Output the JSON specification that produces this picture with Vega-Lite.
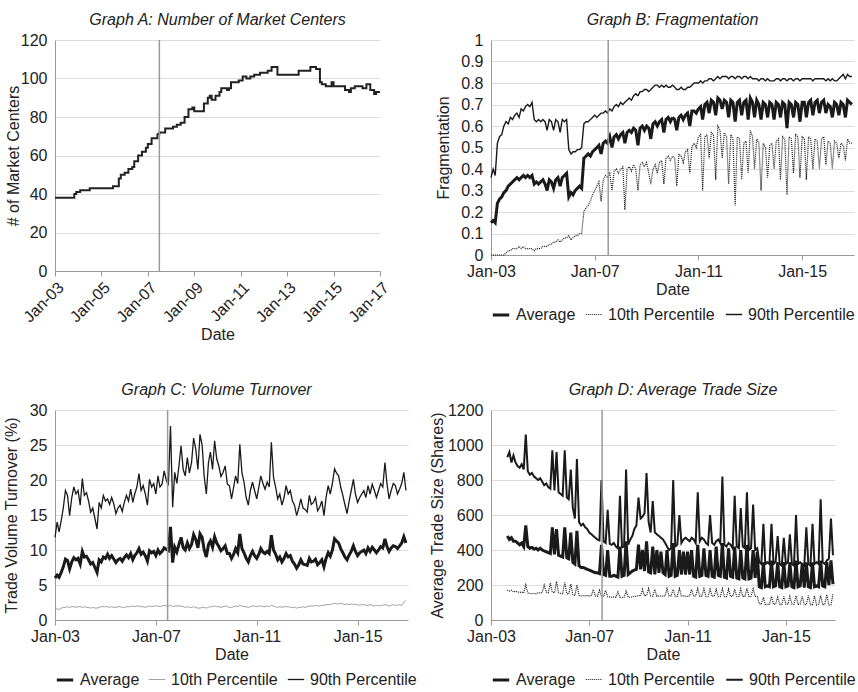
{
"$schema": "https://vega.github.io/schema/vega-lite/v6.json",
"background": "white",
"padding": {"left": 2, "top": 12, "right": 0, "bottom": 0},
"config": {
  "font": "Liberation Sans",
  "view": {"stroke": null},
  "title": {"fontSize": 16, "fontStyle": "italic", "fontWeight": "normal", "color": "#222", "offset": 4, "anchor": "middle", "font": "Liberation Sans"},
  "axis": {"labelFontSize": 16, "titleFontSize": 16, "titleFontWeight": "normal", "labelColor": "#222", "titleColor": "#222", "domainColor": "#999", "tickColor": "#999", "gridColor": "#dcdcdc", "labelFont": "Liberation Sans", "titleFont": "Liberation Sans"},
  "axisX": {"grid": false, "tickSize": 5, "labelPadding": 3, "titlePadding": 2, "labelFlush": false, "labelOverlap": false},
  "axisY": {"grid": true, "ticks": false, "tickSize": 0, "labelPadding": 8},
  "legend": {"labelFontSize": 16, "labelColor": "#222", "symbolSize": 270, "labelOffset": 5, "columnPadding": 7, "offset": 8, "padding": 0, "labelFont": "Liberation Sans"}
},
"columns": 2,
"bounds": "flush",
"spacing": {"row": 139, "column": 83},
"resolve": {"scale": {"color": "independent", "strokeDash": "independent", "strokeWidth": "independent"}, "legend": {"color": "independent", "strokeDash": "independent", "strokeWidth": "independent"}},
"datasets": {
"A": [
{"d":"2003-01","v":38},{"d":"2003-11","v":40},{"d":"2003-12","v":41},{"d":"2004-02","v":42},{"d":"2004-07","v":43},{"d":"2005-07","v":44},{"d":"2005-10","v":48},{"d":"2005-11","v":50},{"d":"2006-01","v":51},{"d":"2006-03","v":53},{"d":"2006-05","v":54},{"d":"2006-06","v":57},{"d":"2006-08","v":60},{"d":"2006-10","v":62},{"d":"2006-12","v":64},{"d":"2007-01","v":66},{"d":"2007-03","v":69},{"d":"2007-06","v":71},{"d":"2007-07","v":72},{"d":"2007-10","v":74},{"d":"2008-02","v":75},{"d":"2008-04","v":76},{"d":"2008-06","v":77},{"d":"2008-08","v":80},{"d":"2008-10","v":84},{"d":"2008-12","v":85},{"d":"2009-01","v":83},{"d":"2009-06","v":87},{"d":"2009-08","v":90},{"d":"2009-09","v":91},{"d":"2009-10","v":89},{"d":"2009-12","v":91},{"d":"2010-02","v":93},{"d":"2010-03","v":95},{"d":"2010-06","v":94},{"d":"2010-07","v":95},{"d":"2010-08","v":98},{"d":"2010-12","v":99},{"d":"2011-02","v":101},{"d":"2011-04","v":100},{"d":"2011-06","v":101},{"d":"2011-08","v":102},{"d":"2011-11","v":103},{"d":"2012-03","v":104},{"d":"2012-05","v":106},{"d":"2012-08","v":102},{"d":"2013-07","v":104},{"d":"2014-01","v":106},{"d":"2014-04","v":105},{"d":"2014-06","v":98},{"d":"2014-07","v":97},{"d":"2014-09","v":96},{"d":"2014-12","v":98},{"d":"2015-01","v":96},{"d":"2015-07","v":94},{"d":"2015-09","v":93},{"d":"2015-10","v":95},{"d":"2015-12","v":96},{"d":"2016-04","v":95},{"d":"2016-06","v":97},{"d":"2016-08","v":94},{"d":"2016-10","v":92},{"d":"2016-11","v":93},{"d":"2017-01","v":93}
],
"B": [
{"d":"2003-01","a":0.15,"l":0,"h":0.36},{"d":"2003-02","a":0.16,"l":0,"h":0.40},{"d":"2003-03","a":0.15,"l":0,"h":0.37},{"d":"2003-04","a":0.24,"l":0,"h":0.52},{"d":"2003-05","a":0.26,"l":0,"h":0.55},{"d":"2003-06","a":0.27,"l":0,"h":0.56},{"d":"2003-07","a":0.29,"l":0,"h":0.60},{"d":"2003-08","a":0.30,"l":0.01,"h":0.62},{"d":"2003-09","a":0.32,"l":0.02,"h":0.61},{"d":"2003-10","a":0.33,"l":0.02,"h":0.64},{"d":"2003-11","a":0.34,"l":0.03,"h":0.63},{"d":"2003-12","a":0.35,"l":0.03,"h":0.65},
{"d":"2004-01","a":0.36,"l":0.03,"h":0.66},{"d":"2004-02","a":0.35,"l":0.04,"h":0.64},{"d":"2004-03","a":0.36,"l":0.03,"h":0.68},{"d":"2004-04","a":0.37,"l":0.04,"h":0.67},{"d":"2004-05","a":0.36,"l":0.03,"h":0.69},{"d":"2004-06","a":0.37,"l":0.03,"h":0.70},{"d":"2004-07","a":0.36,"l":0.03,"h":0.69},{"d":"2004-08","a":0.37,"l":0.03,"h":0.71},{"d":"2004-09","a":0.33,"l":0.02,"h":0.63},{"d":"2004-10","a":0.34,"l":0.03,"h":0.62},{"d":"2004-11","a":0.33,"l":0.03,"h":0.63},{"d":"2004-12","a":0.34,"l":0.03,"h":0.62},
{"d":"2005-01","a":0.35,"l":0.04,"h":0.63},{"d":"2005-02","a":0.33,"l":0.04,"h":0.62},{"d":"2005-03","a":0.30,"l":0.04,"h":0.58},{"d":"2005-04","a":0.35,"l":0.05,"h":0.63},{"d":"2005-05","a":0.34,"l":0.05,"h":0.62},{"d":"2005-06","a":0.31,"l":0.06,"h":0.58},{"d":"2005-07","a":0.35,"l":0.06,"h":0.63},{"d":"2005-08","a":0.36,"l":0.07,"h":0.62},{"d":"2005-09","a":0.32,"l":0.06,"h":0.57},{"d":"2005-10","a":0.36,"l":0.07,"h":0.63},{"d":"2005-11","a":0.37,"l":0.08,"h":0.62},{"d":"2005-12","a":0.38,"l":0.08,"h":0.63},
{"d":"2006-01","a":0.27,"l":0.09,"h":0.49},{"d":"2006-02","a":0.29,"l":0.07,"h":0.47},{"d":"2006-03","a":0.28,"l":0.08,"h":0.48},{"d":"2006-04","a":0.30,"l":0.09,"h":0.48},{"d":"2006-05","a":0.31,"l":0.09,"h":0.49},{"d":"2006-06","a":0.32,"l":0.10,"h":0.49},{"d":"2006-07","a":0.31,"l":0.10,"h":0.50},{"d":"2006-08","a":0.45,"l":0.20,"h":0.61},{"d":"2006-09","a":0.46,"l":0.22,"h":0.62},{"d":"2006-10","a":0.47,"l":0.23,"h":0.62},{"d":"2006-11","a":0.46,"l":0.25,"h":0.63},{"d":"2006-12","a":0.48,"l":0.28,"h":0.64},
{"d":"2007-01","a":0.49,"l":0.30,"h":0.65},{"d":"2007-02","a":0.50,"l":0.32,"h":0.64},{"d":"2007-03","a":0.51,"l":0.34,"h":0.65},{"d":"2007-04","a":0.47,"l":0.25,"h":0.66},{"d":"2007-05","a":0.52,"l":0.35,"h":0.66},{"d":"2007-06","a":0.53,"l":0.37,"h":0.67},{"d":"2007-07","a":0.52,"l":0.36,"h":0.66},{"d":"2007-08","a":0.55,"l":0.38,"h":0.68},{"d":"2007-09","a":0.50,"l":0.30,"h":0.67},{"d":"2007-10","a":0.55,"l":0.39,"h":0.69},{"d":"2007-11","a":0.56,"l":0.40,"h":0.70},{"d":"2007-12","a":0.54,"l":0.38,"h":0.69},
{"d":"2008-01","a":0.56,"l":0.40,"h":0.71},{"d":"2008-02","a":0.57,"l":0.41,"h":0.70},{"d":"2008-03","a":0.52,"l":0.21,"h":0.71},{"d":"2008-04","a":0.57,"l":0.40,"h":0.72},{"d":"2008-05","a":0.58,"l":0.41,"h":0.73},{"d":"2008-06","a":0.57,"l":0.39,"h":0.72},{"d":"2008-07","a":0.59,"l":0.42,"h":0.74},{"d":"2008-08","a":0.58,"l":0.40,"h":0.75},{"d":"2008-09","a":0.51,"l":0.30,"h":0.74},{"d":"2008-10","a":0.59,"l":0.42,"h":0.76},{"d":"2008-11","a":0.60,"l":0.43,"h":0.76},{"d":"2008-12","a":0.58,"l":0.41,"h":0.77},
{"d":"2009-01","a":0.60,"l":0.43,"h":0.77},{"d":"2009-02","a":0.59,"l":0.38,"h":0.76},{"d":"2009-03","a":0.54,"l":0.33,"h":0.77},{"d":"2009-04","a":0.61,"l":0.40,"h":0.78},{"d":"2009-05","a":0.62,"l":0.42,"h":0.79},{"d":"2009-06","a":0.60,"l":0.38,"h":0.79},{"d":"2009-07","a":0.62,"l":0.43,"h":0.78},{"d":"2009-08","a":0.63,"l":0.44,"h":0.79},{"d":"2009-09","a":0.57,"l":0.33,"h":0.78},{"d":"2009-10","a":0.63,"l":0.45,"h":0.79},{"d":"2009-11","a":0.64,"l":0.46,"h":0.78},{"d":"2009-12","a":0.62,"l":0.44,"h":0.78},
{"d":"2010-01","a":0.64,"l":0.46,"h":0.79},{"d":"2010-02","a":0.63,"l":0.45,"h":0.78},{"d":"2010-03","a":0.58,"l":0.32,"h":0.77},{"d":"2010-04","a":0.64,"l":0.47,"h":0.77},{"d":"2010-05","a":0.65,"l":0.46,"h":0.78},{"d":"2010-06","a":0.63,"l":0.43,"h":0.77},{"d":"2010-07","a":0.65,"l":0.48,"h":0.77},{"d":"2010-08","a":0.66,"l":0.49,"h":0.78},{"d":"2010-09","a":0.60,"l":0.38,"h":0.78},{"d":"2010-10","a":0.67,"l":0.50,"h":0.79},{"d":"2010-11","a":0.67,"l":0.52,"h":0.80},{"d":"2010-12","a":0.66,"l":0.50,"h":0.80},
{"d":"2011-01","a":0.68,"l":0.55,"h":0.80},{"d":"2011-02","a":0.69,"l":0.56,"h":0.81},{"d":"2011-03","a":0.63,"l":0.30,"h":0.80},{"d":"2011-04","a":0.70,"l":0.55,"h":0.81},{"d":"2011-05","a":0.71,"l":0.56,"h":0.81},{"d":"2011-06","a":0.66,"l":0.45,"h":0.82},{"d":"2011-07","a":0.72,"l":0.57,"h":0.82},{"d":"2011-08","a":0.71,"l":0.56,"h":0.81},{"d":"2011-09","a":0.65,"l":0.35,"h":0.82},{"d":"2011-10","a":0.73,"l":0.60,"h":0.83},{"d":"2011-11","a":0.72,"l":0.58,"h":0.82},{"d":"2011-12","a":0.68,"l":0.45,"h":0.83},
{"d":"2012-01","a":0.72,"l":0.57,"h":0.83},{"d":"2012-02","a":0.71,"l":0.55,"h":0.83},{"d":"2012-03","a":0.64,"l":0.33,"h":0.82},{"d":"2012-04","a":0.72,"l":0.56,"h":0.83},{"d":"2012-05","a":0.71,"l":0.54,"h":0.83},{"d":"2012-06","a":0.62,"l":0.23,"h":0.82},{"d":"2012-07","a":0.71,"l":0.55,"h":0.83},{"d":"2012-08","a":0.72,"l":0.54,"h":0.83},{"d":"2012-09","a":0.65,"l":0.35,"h":0.82},{"d":"2012-10","a":0.71,"l":0.52,"h":0.83},{"d":"2012-11","a":0.72,"l":0.53,"h":0.83},{"d":"2012-12","a":0.63,"l":0.38,"h":0.82},
{"d":"2013-01","a":0.73,"l":0.58,"h":0.83},{"d":"2013-02","a":0.71,"l":0.55,"h":0.82},{"d":"2013-03","a":0.64,"l":0.40,"h":0.82},{"d":"2013-04","a":0.72,"l":0.54,"h":0.82},{"d":"2013-05","a":0.70,"l":0.52,"h":0.81},{"d":"2013-06","a":0.63,"l":0.30,"h":0.82},{"d":"2013-07","a":0.71,"l":0.52,"h":0.82},{"d":"2013-08","a":0.70,"l":0.50,"h":0.81},{"d":"2013-09","a":0.64,"l":0.36,"h":0.82},{"d":"2013-10","a":0.71,"l":0.51,"h":0.81},{"d":"2013-11","a":0.70,"l":0.52,"h":0.81},{"d":"2013-12","a":0.63,"l":0.40,"h":0.81},
{"d":"2014-01","a":0.71,"l":0.53,"h":0.82},{"d":"2014-02","a":0.70,"l":0.54,"h":0.82},{"d":"2014-03","a":0.64,"l":0.35,"h":0.81},{"d":"2014-04","a":0.71,"l":0.55,"h":0.82},{"d":"2014-05","a":0.70,"l":0.54,"h":0.82},{"d":"2014-06","a":0.59,"l":0.28,"h":0.81},{"d":"2014-07","a":0.71,"l":0.55,"h":0.82},{"d":"2014-08","a":0.70,"l":0.54,"h":0.82},{"d":"2014-09","a":0.64,"l":0.38,"h":0.81},{"d":"2014-10","a":0.71,"l":0.56,"h":0.82},{"d":"2014-11","a":0.70,"l":0.55,"h":0.82},{"d":"2014-12","a":0.62,"l":0.36,"h":0.81},
{"d":"2015-01","a":0.71,"l":0.55,"h":0.82},{"d":"2015-02","a":0.71,"l":0.54,"h":0.82},{"d":"2015-03","a":0.64,"l":0.35,"h":0.82},{"d":"2015-04","a":0.71,"l":0.55,"h":0.82},{"d":"2015-05","a":0.72,"l":0.54,"h":0.82},{"d":"2015-06","a":0.65,"l":0.40,"h":0.81},{"d":"2015-07","a":0.71,"l":0.54,"h":0.82},{"d":"2015-08","a":0.72,"l":0.53,"h":0.82},{"d":"2015-09","a":0.66,"l":0.40,"h":0.82},{"d":"2015-10","a":0.71,"l":0.54,"h":0.82},{"d":"2015-11","a":0.72,"l":0.55,"h":0.82},{"d":"2015-12","a":0.66,"l":0.42,"h":0.81},
{"d":"2016-01","a":0.70,"l":0.53,"h":0.82},{"d":"2016-02","a":0.69,"l":0.52,"h":0.81},{"d":"2016-03","a":0.64,"l":0.40,"h":0.82},{"d":"2016-04","a":0.71,"l":0.53,"h":0.81},{"d":"2016-05","a":0.70,"l":0.52,"h":0.81},{"d":"2016-06","a":0.65,"l":0.45,"h":0.82},{"d":"2016-07","a":0.71,"l":0.52,"h":0.83},{"d":"2016-08","a":0.70,"l":0.51,"h":0.84},{"d":"2016-09","a":0.64,"l":0.44,"h":0.82},{"d":"2016-10","a":0.72,"l":0.54,"h":0.84},{"d":"2016-11","a":0.71,"l":0.52,"h":0.83},{"d":"2016-12","a":0.70,"l":0.52,"h":0.83}
],
"C": [
{"d":"2003-01","a":6.0,"l":1.5,"h":11.8},{"d":"2003-02","a":6.4,"l":1.6,"h":14.0},{"d":"2003-03","a":6.1,"l":1.5,"h":12.6},{"d":"2003-04","a":6.8,"l":1.7,"h":14.2},{"d":"2003-05","a":7.6,"l":1.8,"h":16.0},{"d":"2003-06","a":8.7,"l":1.8,"h":18.5},{"d":"2003-07","a":8.5,"l":1.9,"h":17.8},{"d":"2003-08","a":7.3,"l":1.8,"h":14.9},{"d":"2003-09","a":8.3,"l":1.9,"h":17.5},{"d":"2003-10","a":8.9,"l":1.9,"h":19.0},{"d":"2003-11","a":8.6,"l":1.8,"h":18.0},{"d":"2003-12","a":8.8,"l":1.9,"h":18.5},
{"d":"2004-01","a":8.0,"l":1.9,"h":16.4},{"d":"2004-02","a":9.8,"l":1.8,"h":20.2},{"d":"2004-03","a":9.0,"l":1.9,"h":17.8},{"d":"2004-04","a":9.1,"l":1.8,"h":18.2},{"d":"2004-05","a":8.6,"l":1.8,"h":17.0},{"d":"2004-06","a":8.0,"l":1.7,"h":15.4},{"d":"2004-07","a":8.2,"l":1.8,"h":16.0},{"d":"2004-08","a":7.5,"l":1.7,"h":14.5},{"d":"2004-09","a":6.8,"l":1.7,"h":13.0},{"d":"2004-10","a":8.6,"l":1.8,"h":16.8},{"d":"2004-11","a":8.3,"l":1.9,"h":16.0},{"d":"2004-12","a":9.0,"l":1.9,"h":17.8},
{"d":"2005-01","a":8.8,"l":1.9,"h":17.0},{"d":"2005-02","a":9.4,"l":1.9,"h":17.3},{"d":"2005-03","a":8.8,"l":1.8,"h":16.5},{"d":"2005-04","a":9.2,"l":1.9,"h":17.5},{"d":"2005-05","a":8.7,"l":1.8,"h":16.6},{"d":"2005-06","a":8.2,"l":1.8,"h":15.2},{"d":"2005-07","a":8.6,"l":1.9,"h":16.0},{"d":"2005-08","a":8.8,"l":1.9,"h":16.4},{"d":"2005-09","a":8.4,"l":1.8,"h":15.5},{"d":"2005-10","a":8.9,"l":1.8,"h":16.8},{"d":"2005-11","a":9.3,"l":1.9,"h":17.8},{"d":"2005-12","a":8.9,"l":1.9,"h":17.0},
{"d":"2006-01","a":9.5,"l":1.9,"h":18.7},{"d":"2006-02","a":8.6,"l":2.0,"h":16.8},{"d":"2006-03","a":9.2,"l":1.9,"h":18.0},{"d":"2006-04","a":9.6,"l":2.0,"h":19.0},{"d":"2006-05","a":10.2,"l":2.0,"h":20.9},{"d":"2006-06","a":9.4,"l":1.9,"h":18.5},{"d":"2006-07","a":9.7,"l":1.9,"h":19.2},{"d":"2006-08","a":9.2,"l":1.8,"h":18.0},{"d":"2006-09","a":8.4,"l":1.9,"h":16.4},{"d":"2006-10","a":9.9,"l":2.0,"h":20.1},{"d":"2006-11","a":9.6,"l":1.9,"h":19.0},{"d":"2006-12","a":9.8,"l":2.0,"h":19.5},
{"d":"2007-01","a":9.2,"l":2.0,"h":18.0},{"d":"2007-02","a":10.0,"l":2.0,"h":20.6},{"d":"2007-03","a":9.5,"l":1.9,"h":19.0},{"d":"2007-04","a":9.8,"l":2.0,"h":19.4},{"d":"2007-05","a":10.3,"l":2.1,"h":21.3},{"d":"2007-06","a":10.1,"l":2.0,"h":20.0},{"d":"2007-07","a":9.9,"l":2.0,"h":19.2},{"d":"2007-08","a":13.3,"l":2.1,"h":27.7},{"d":"2007-09","a":8.2,"l":1.9,"h":16.1},{"d":"2007-10","a":10.4,"l":2.0,"h":21.1},{"d":"2007-11","a":9.7,"l":2.0,"h":19.5},{"d":"2007-12","a":10.8,"l":2.0,"h":22.0},
{"d":"2008-01","a":11.8,"l":2.0,"h":24.9},{"d":"2008-02","a":10.3,"l":1.9,"h":21.5},{"d":"2008-03","a":10.0,"l":1.8,"h":20.6},{"d":"2008-04","a":11.0,"l":1.9,"h":23.2},{"d":"2008-05","a":10.2,"l":1.8,"h":21.0},{"d":"2008-06","a":10.8,"l":1.8,"h":22.5},{"d":"2008-07","a":12.2,"l":1.9,"h":26.0},{"d":"2008-08","a":11.5,"l":1.8,"h":24.4},{"d":"2008-09","a":10.3,"l":1.7,"h":21.5},{"d":"2008-10","a":12.3,"l":1.7,"h":26.5},{"d":"2008-11","a":11.8,"l":1.8,"h":25.0},{"d":"2008-12","a":10.0,"l":1.8,"h":20.5},
{"d":"2009-01","a":9.0,"l":1.7,"h":18.0},{"d":"2009-02","a":10.8,"l":1.8,"h":22.5},{"d":"2009-03","a":11.3,"l":1.9,"h":24.0},{"d":"2009-04","a":10.4,"l":1.9,"h":21.5},{"d":"2009-05","a":11.9,"l":2.0,"h":25.6},{"d":"2009-06","a":11.0,"l":1.9,"h":23.0},{"d":"2009-07","a":10.5,"l":1.9,"h":22.0},{"d":"2009-08","a":9.9,"l":1.8,"h":20.5},{"d":"2009-09","a":10.2,"l":1.9,"h":21.1},{"d":"2009-10","a":10.6,"l":2.0,"h":22.0},{"d":"2009-11","a":9.5,"l":1.9,"h":19.4},{"d":"2009-12","a":9.5,"l":1.8,"h":19.2},
{"d":"2010-01","a":8.8,"l":1.8,"h":17.3},{"d":"2010-02","a":9.4,"l":1.9,"h":19.0},{"d":"2010-03","a":10.2,"l":2.0,"h":20.6},{"d":"2010-04","a":9.6,"l":1.9,"h":19.5},{"d":"2010-05","a":12.3,"l":2.1,"h":25.1},{"d":"2010-06","a":10.2,"l":2.0,"h":21.0},{"d":"2010-07","a":9.6,"l":1.9,"h":19.7},{"d":"2010-08","a":8.8,"l":1.9,"h":17.5},{"d":"2010-09","a":8.3,"l":1.8,"h":16.4},{"d":"2010-10","a":9.2,"l":1.9,"h":18.5},{"d":"2010-11","a":9.8,"l":2.0,"h":19.7},{"d":"2010-12","a":9.2,"l":2.0,"h":18.5},
{"d":"2011-01","a":8.8,"l":1.9,"h":17.3},{"d":"2011-02","a":9.4,"l":2.0,"h":19.0},{"d":"2011-03","a":10.2,"l":2.0,"h":20.6},{"d":"2011-04","a":9.7,"l":1.9,"h":19.5},{"d":"2011-05","a":9.5,"l":1.9,"h":18.7},{"d":"2011-06","a":9.8,"l":2.0,"h":19.7},{"d":"2011-07","a":9.5,"l":1.9,"h":19.0},{"d":"2011-08","a":12.1,"l":2.1,"h":25.4},{"d":"2011-09","a":10.0,"l":2.0,"h":20.4},{"d":"2011-10","a":9.4,"l":1.9,"h":19.0},{"d":"2011-11","a":8.6,"l":1.8,"h":17.3},{"d":"2011-12","a":9.0,"l":1.9,"h":18.0},
{"d":"2012-01","a":8.3,"l":1.8,"h":16.4},{"d":"2012-02","a":8.8,"l":1.9,"h":17.5},{"d":"2012-03","a":9.5,"l":1.9,"h":19.2},{"d":"2012-04","a":9.0,"l":1.9,"h":18.0},{"d":"2012-05","a":9.2,"l":1.8,"h":18.5},{"d":"2012-06","a":8.4,"l":1.8,"h":17.0},{"d":"2012-07","a":8.0,"l":1.8,"h":16.4},{"d":"2012-08","a":7.4,"l":1.7,"h":14.9},{"d":"2012-09","a":7.9,"l":1.8,"h":16.0},{"d":"2012-10","a":8.6,"l":1.8,"h":17.3},{"d":"2012-11","a":8.0,"l":1.9,"h":16.0},{"d":"2012-12","a":7.9,"l":1.8,"h":15.8},
{"d":"2013-01","a":7.8,"l":1.9,"h":15.4},{"d":"2013-02","a":8.8,"l":2.0,"h":17.8},{"d":"2013-03","a":8.3,"l":2.0,"h":16.5},{"d":"2013-04","a":8.4,"l":2.0,"h":16.8},{"d":"2013-05","a":8.7,"l":2.1,"h":17.5},{"d":"2013-06","a":7.9,"l":2.0,"h":15.6},{"d":"2013-07","a":8.2,"l":2.0,"h":16.1},{"d":"2013-08","a":8.6,"l":2.1,"h":17.0},{"d":"2013-09","a":7.6,"l":2.1,"h":14.9},{"d":"2013-10","a":8.8,"l":2.2,"h":17.5},{"d":"2013-11","a":9.6,"l":2.2,"h":19.2},{"d":"2013-12","a":9.1,"l":2.2,"h":18.0},
{"d":"2014-01","a":10.0,"l":2.3,"h":19.5},{"d":"2014-02","a":11.6,"l":2.4,"h":21.6},{"d":"2014-03","a":11.3,"l":2.3,"h":21.0},{"d":"2014-04","a":11.0,"l":2.3,"h":20.6},{"d":"2014-05","a":10.2,"l":2.4,"h":19.0},{"d":"2014-06","a":9.6,"l":2.3,"h":17.8},{"d":"2014-07","a":9.0,"l":2.2,"h":16.5},{"d":"2014-08","a":8.6,"l":2.3,"h":15.2},{"d":"2014-09","a":9.3,"l":2.2,"h":17.0},{"d":"2014-10","a":9.8,"l":2.3,"h":18.5},{"d":"2014-11","a":10.6,"l":2.2,"h":20.1},{"d":"2014-12","a":9.8,"l":2.2,"h":18.0},
{"d":"2015-01","a":9.2,"l":2.2,"h":16.8},{"d":"2015-02","a":9.6,"l":2.1,"h":17.5},{"d":"2015-03","a":9.8,"l":2.2,"h":18.0},{"d":"2015-04","a":10.0,"l":2.2,"h":18.5},{"d":"2015-05","a":9.5,"l":2.1,"h":17.5},{"d":"2015-06","a":10.3,"l":2.1,"h":19.2},{"d":"2015-07","a":9.8,"l":2.2,"h":18.0},{"d":"2015-08","a":10.4,"l":2.1,"h":19.4},{"d":"2015-09","a":10.0,"l":2.0,"h":18.5},{"d":"2015-10","a":9.6,"l":2.1,"h":17.5},{"d":"2015-11","a":10.0,"l":2.0,"h":18.5},{"d":"2015-12","a":10.5,"l":2.1,"h":19.5},
{"d":"2016-01","a":10.3,"l":2.1,"h":19.0},{"d":"2016-02","a":11.6,"l":2.2,"h":22.5},{"d":"2016-03","a":10.5,"l":2.1,"h":19.5},{"d":"2016-04","a":9.8,"l":2.0,"h":17.3},{"d":"2016-05","a":10.3,"l":2.1,"h":18.5},{"d":"2016-06","a":10.6,"l":2.2,"h":19.5},{"d":"2016-07","a":10.5,"l":2.1,"h":19.2},{"d":"2016-08","a":10.2,"l":2.1,"h":18.0},{"d":"2016-09","a":10.6,"l":2.2,"h":18.7},{"d":"2016-10","a":11.0,"l":2.1,"h":19.5},{"d":"2016-11","a":11.9,"l":2.5,"h":21.1},{"d":"2016-12","a":11.0,"l":2.8,"h":18.5}
],
"D": [
{"d":"2003-09","a":480,"l":170,"h":930},{"d":"2003-10","a":460,"l":165,"h":960},{"d":"2003-11","a":470,"l":170,"h":900},{"d":"2003-12","a":450,"l":160,"h":940},
{"d":"2004-01","a":450,"l":165,"h":900},{"d":"2004-02","a":440,"l":160,"h":880},{"d":"2004-03","a":430,"l":158,"h":870},{"d":"2004-04","a":440,"l":160,"h":890},{"d":"2004-05","a":420,"l":155,"h":860},{"d":"2004-06","a":540,"l":200,"h":1060},{"d":"2004-07","a":420,"l":155,"h":850},{"d":"2004-08","a":410,"l":152,"h":830},{"d":"2004-09","a":415,"l":150,"h":840},{"d":"2004-10","a":405,"l":152,"h":820},{"d":"2004-11","a":410,"l":150,"h":810},{"d":"2004-12","a":400,"l":155,"h":800},
{"d":"2005-01","a":410,"l":155,"h":810},{"d":"2005-02","a":400,"l":158,"h":790},{"d":"2005-03","a":395,"l":200,"h":770},{"d":"2005-04","a":390,"l":160,"h":780},{"d":"2005-05","a":385,"l":155,"h":760},{"d":"2005-06","a":380,"l":210,"h":750},{"d":"2005-07","a":530,"l":158,"h":970},{"d":"2005-08","a":375,"l":155,"h":740},{"d":"2005-09","a":520,"l":220,"h":960},{"d":"2005-10","a":370,"l":155,"h":730},{"d":"2005-11","a":365,"l":152,"h":720},{"d":"2005-12","a":360,"l":150,"h":710},
{"d":"2006-01","a":530,"l":215,"h":970},{"d":"2006-02","a":355,"l":150,"h":700},{"d":"2006-03","a":350,"l":148,"h":690},{"d":"2006-04","a":500,"l":205,"h":860},{"d":"2006-05","a":330,"l":145,"h":640},{"d":"2006-06","a":320,"l":140,"h":580},{"d":"2006-07","a":510,"l":200,"h":920},{"d":"2006-08","a":310,"l":140,"h":560},{"d":"2006-09","a":300,"l":138,"h":540},{"d":"2006-10","a":300,"l":140,"h":550},{"d":"2006-11","a":295,"l":138,"h":530},{"d":"2006-12","a":290,"l":140,"h":520},
{"d":"2007-01","a":285,"l":138,"h":500},{"d":"2007-02","a":280,"l":140,"h":490},{"d":"2007-03","a":275,"l":175,"h":480},{"d":"2007-04","a":270,"l":138,"h":470},{"d":"2007-05","a":270,"l":135,"h":460},{"d":"2007-06","a":265,"l":170,"h":455},{"d":"2007-07","a":430,"l":136,"h":800},{"d":"2007-08","a":260,"l":134,"h":450},{"d":"2007-09","a":255,"l":170,"h":440},{"d":"2007-10","a":400,"l":133,"h":630},{"d":"2007-11","a":250,"l":132,"h":435},{"d":"2007-12","a":250,"l":130,"h":430},
{"d":"2008-01","a":255,"l":132,"h":440},{"d":"2008-02","a":250,"l":130,"h":420},{"d":"2008-03","a":245,"l":160,"h":410},{"d":"2008-04","a":420,"l":130,"h":710},{"d":"2008-05","a":250,"l":128,"h":415},{"d":"2008-06","a":255,"l":130,"h":420},{"d":"2008-07","a":450,"l":165,"h":860},{"d":"2008-08","a":260,"l":130,"h":430},{"d":"2008-09","a":270,"l":130,"h":460},{"d":"2008-10","a":280,"l":132,"h":480},{"d":"2008-11","a":285,"l":135,"h":520},{"d":"2008-12","a":290,"l":135,"h":540},
{"d":"2009-01","a":430,"l":140,"h":700},{"d":"2009-02","a":290,"l":138,"h":580},{"d":"2009-03","a":400,"l":175,"h":590},{"d":"2009-04","a":280,"l":138,"h":610},{"d":"2009-05","a":450,"l":140,"h":840},{"d":"2009-06","a":275,"l":180,"h":560},{"d":"2009-07","a":270,"l":138,"h":500},{"d":"2009-08","a":420,"l":136,"h":680},{"d":"2009-09","a":260,"l":175,"h":500},{"d":"2009-10","a":400,"l":135,"h":490},{"d":"2009-11","a":270,"l":138,"h":480},{"d":"2009-12","a":390,"l":137,"h":470},
{"d":"2010-01","a":270,"l":136,"h":460},{"d":"2010-02","a":260,"l":138,"h":440},{"d":"2010-03","a":400,"l":180,"h":420},{"d":"2010-04","a":250,"l":137,"h":400},{"d":"2010-05","a":255,"l":138,"h":410},{"d":"2010-06","a":440,"l":175,"h":800},{"d":"2010-07","a":250,"l":136,"h":420},{"d":"2010-08","a":255,"l":135,"h":430},{"d":"2010-09","a":400,"l":180,"h":600},{"d":"2010-10","a":260,"l":137,"h":440},{"d":"2010-11","a":390,"l":138,"h":460},{"d":"2010-12","a":260,"l":136,"h":470},
{"d":"2011-01","a":390,"l":135,"h":460},{"d":"2011-02","a":260,"l":138,"h":450},{"d":"2011-03","a":400,"l":175,"h":470},{"d":"2011-04","a":250,"l":136,"h":460},{"d":"2011-05","a":245,"l":137,"h":440},{"d":"2011-06","a":430,"l":180,"h":730},{"d":"2011-07","a":250,"l":135,"h":450},{"d":"2011-08","a":255,"l":136,"h":470},{"d":"2011-09","a":410,"l":178,"h":460},{"d":"2011-10","a":255,"l":135,"h":440},{"d":"2011-11","a":250,"l":134,"h":430},{"d":"2011-12","a":400,"l":176,"h":600},
{"d":"2012-01","a":250,"l":135,"h":440},{"d":"2012-02","a":245,"l":136,"h":430},{"d":"2012-03","a":420,"l":175,"h":450},{"d":"2012-04","a":255,"l":134,"h":460},{"d":"2012-05","a":250,"l":135,"h":440},{"d":"2012-06","a":440,"l":178,"h":820},{"d":"2012-07","a":245,"l":134,"h":430},{"d":"2012-08","a":240,"l":133,"h":420},{"d":"2012-09","a":410,"l":176,"h":440},{"d":"2012-10","a":250,"l":135,"h":430},{"d":"2012-11","a":245,"l":134,"h":410},{"d":"2012-12","a":420,"l":175,"h":710},
{"d":"2013-01","a":240,"l":134,"h":420},{"d":"2013-02","a":235,"l":135,"h":410},{"d":"2013-03","a":400,"l":178,"h":640},{"d":"2013-04","a":240,"l":136,"h":420},{"d":"2013-05","a":235,"l":135,"h":410},{"d":"2013-06","a":430,"l":180,"h":730},{"d":"2013-07","a":235,"l":134,"h":400},{"d":"2013-08","a":240,"l":136,"h":410},{"d":"2013-09","a":400,"l":178,"h":660},{"d":"2013-10","a":240,"l":135,"h":400},{"d":"2013-11","a":390,"l":134,"h":410},{"d":"2013-12","a":190,"l":92,"h":330},
{"d":"2014-01","a":185,"l":90,"h":320},{"d":"2014-02","a":330,"l":130,"h":550},{"d":"2014-03","a":190,"l":88,"h":320},{"d":"2014-04","a":195,"l":90,"h":330},{"d":"2014-05","a":190,"l":89,"h":320},{"d":"2014-06","a":340,"l":135,"h":550},{"d":"2014-07","a":190,"l":90,"h":320},{"d":"2014-08","a":195,"l":91,"h":330},{"d":"2014-09","a":330,"l":130,"h":480},{"d":"2014-10","a":190,"l":89,"h":320},{"d":"2014-11","a":185,"l":88,"h":310},{"d":"2014-12","a":330,"l":135,"h":470},
{"d":"2015-01","a":190,"l":90,"h":320},{"d":"2015-02","a":195,"l":92,"h":330},{"d":"2015-03","a":330,"l":135,"h":490},{"d":"2015-04","a":190,"l":91,"h":320},{"d":"2015-05","a":185,"l":90,"h":310},{"d":"2015-06","a":340,"l":138,"h":600},{"d":"2015-07","a":190,"l":89,"h":320},{"d":"2015-08","a":195,"l":90,"h":330},{"d":"2015-09","a":320,"l":136,"h":320},{"d":"2015-10","a":185,"l":88,"h":310},{"d":"2015-11","a":330,"l":87,"h":530},{"d":"2015-12","a":190,"l":140,"h":320},
{"d":"2016-01","a":185,"l":88,"h":310},{"d":"2016-02","a":330,"l":87,"h":550},{"d":"2016-03","a":190,"l":138,"h":320},{"d":"2016-04","a":195,"l":86,"h":330},{"d":"2016-05","a":190,"l":88,"h":320},{"d":"2016-06","a":340,"l":140,"h":690},{"d":"2016-07","a":195,"l":87,"h":330},{"d":"2016-08","a":190,"l":88,"h":320},{"d":"2016-09","a":330,"l":145,"h":340},{"d":"2016-10","a":200,"l":86,"h":350},{"d":"2016-11","a":340,"l":87,"h":580},{"d":"2016-12","a":205,"l":150,"h":370}
]
},
"concat": [
{
  "title": {"text": "Graph A: Number of Market Centers"},
  "width": 325, "height": 231,
  "layer": [
    {"data": {"name": "A"}, "mark": {"type": "line", "interpolate": "step-after", "color": "#222", "strokeWidth": 2},
     "encoding": {
       "x": {"field": "d", "type": "temporal", "title": "Date",
             "scale": {"domain": [{"year": 2003, "month": 1, "date": 1}, {"year": 2017, "month": 1, "date": 1}]},
             "axis": {"values": [{"year": 2003}, {"year": 2005}, {"year": 2007}, {"year": 2009}, {"year": 2011}, {"year": 2013}, {"year": 2015}, {"year": 2017}], "format": "%b-%y", "labelAngle": -45}},
       "y": {"field": "v", "type": "quantitative", "title": "# of Market Centers", "scale": {"domain": [0, 120]},
             "axis": {"values": [0, 20, 40, 60, 80, 100, 120], "titleX": -34}}
     }},
    {"data": {"values": [{}]}, "mark": {"type": "rule", "color": "#9a9a9a", "strokeWidth": 1.5},
     "encoding": {"x": {"datum": {"year": 2007, "month": 7, "date": 1}, "type": "temporal"}}}
  ]
},
{
  "title": {"text": "Graph B: Fragmentation"},
  "width": 363, "height": 215,
  "layer": [
    {"data": {"name": "B"}, "transform": [{"fold": ["a", "l", "h"], "as": ["k", "v"]}],
     "mark": {"type": "line"},
     "encoding": {
       "x": {"field": "d", "type": "temporal", "title": "Date",
             "scale": {"domain": [{"year": 2003, "month": 1, "date": 1}, {"year": 2016, "month": 12, "date": 31}]},
             "axis": {"values": [{"year": 2003}, {"year": 2007}, {"year": 2011}, {"year": 2015}], "format": "%b-%y"}},
       "y": {"field": "v", "type": "quantitative", "title": "Fragmentation", "scale": {"domain": [0, 1]},
             "axis": {"values": [0, 0.1, 0.2, 0.3, 0.4, 0.5, 0.6, 0.7, 0.8, 0.9, 1], "format": "~g", "titleX": -40}},
       "color": {"field": "k", "type": "nominal", "scale": {"domain": ["a", "l", "h"], "range": ["#1a1a1a", "#1a1a1a", "#1a1a1a"]},
                 "legend": {"title": null, "orient": "bottom", "direction": "horizontal", "symbolType": "stroke", "labelExpr": "datum.label == 'a' ? 'Average' : datum.label == 'l' ? '10th Percentile' : '90th Percentile'"}},
       "strokeDash": {"field": "k", "type": "nominal", "scale": {"domain": ["a", "l", "h"], "range": [[1, 0], [1, 1], [1, 0]]},
                 "legend": {"title": null, "orient": "bottom", "direction": "horizontal", "symbolType": "stroke", "labelExpr": "datum.label == 'a' ? 'Average' : datum.label == 'l' ? '10th Percentile' : '90th Percentile'"}},
       "strokeWidth": {"field": "k", "type": "nominal", "scale": {"type": "ordinal", "domain": ["a", "l", "h"], "range": [3, 1.2, 1.4]},
                 "legend": {"title": null, "orient": "bottom", "direction": "horizontal", "symbolType": "stroke", "labelExpr": "datum.label == 'a' ? 'Average' : datum.label == 'l' ? '10th Percentile' : '90th Percentile'"}}
     }},
    {"data": {"values": [{}]}, "mark": {"type": "rule", "color": "#9a9a9a", "strokeWidth": 1.5},
     "encoding": {"x": {"datum": {"year": 2007, "month": 7, "date": 10}, "type": "temporal"}}}
  ]
},
{
  "title": {"text": "Graph C: Volume Turnover", "dx": -15},
  "width": 353, "height": 210,
  "layer": [
    {"data": {"name": "C"}, "transform": [{"fold": ["a", "l", "h"], "as": ["k", "v"]}],
     "mark": {"type": "line"},
     "encoding": {
       "x": {"field": "d", "type": "temporal", "title": "Date",
             "scale": {"domain": [{"year": 2003, "month": 1, "date": 1}, {"year": 2016, "month": 12, "date": 31}]},
             "axis": {"values": [{"year": 2003}, {"year": 2007}, {"year": 2011}, {"year": 2015}], "format": "%b-%y"}},
       "y": {"field": "v", "type": "quantitative", "title": "Trade Volume Turnover (%)", "scale": {"domain": [0, 30]},
             "axis": {"values": [0, 5, 10, 15, 20, 25, 30], "titleX": -36}},
       "color": {"field": "k", "type": "nominal", "scale": {"domain": ["a", "l", "h"], "range": ["#1a1a1a", "#8a8a8a", "#1a1a1a"]},
                 "legend": {"title": null, "orient": "bottom", "direction": "horizontal", "symbolType": "stroke", "labelExpr": "datum.label == 'a' ? 'Average' : datum.label == 'l' ? '10th Percentile' : '90th Percentile'"}},
       "strokeWidth": {"field": "k", "type": "nominal", "scale": {"type": "ordinal", "domain": ["a", "l", "h"], "range": [3, 0.8, 1.3]},
                 "legend": {"title": null, "orient": "bottom", "direction": "horizontal", "symbolType": "stroke", "labelExpr": "datum.label == 'a' ? 'Average' : datum.label == 'l' ? '10th Percentile' : '90th Percentile'"}}
     }},
    {"data": {"values": [{}]}, "mark": {"type": "rule", "color": "#9a9a9a", "strokeWidth": 1.5},
     "encoding": {"x": {"datum": {"year": 2007, "month": 6, "date": 20}, "type": "temporal"}}}
  ]
},
{
  "title": {"text": "Graph D: Average Trade Size", "dx": 10},
  "width": 344, "height": 210,
  "layer": [
    {"data": {"name": "D"}, "transform": [{"fold": ["a", "l", "h"], "as": ["k", "v"]}],
     "mark": {"type": "line"},
     "encoding": {
       "x": {"field": "d", "type": "temporal", "title": "Date",
             "scale": {"domain": [{"year": 2003, "month": 1, "date": 1}, {"year": 2016, "month": 12, "date": 31}]},
             "axis": {"values": [{"year": 2003}, {"year": 2007}, {"year": 2011}, {"year": 2015}], "format": "%b-%y"}},
       "y": {"field": "v", "type": "quantitative", "title": "Average Trade Size (Shares)", "scale": {"domain": [0, 1200]},
             "axis": {"values": [0, 200, 400, 600, 800, 1000, 1200], "format": "d", "titleX": -46}},
       "color": {"field": "k", "type": "nominal", "scale": {"domain": ["a", "l", "h"], "range": ["#1a1a1a", "#1a1a1a", "#1a1a1a"]},
                 "legend": {"title": null, "orient": "bottom", "direction": "horizontal", "symbolType": "stroke", "labelExpr": "datum.label == 'a' ? 'Average' : datum.label == 'l' ? '10th Percentile' : '90th Percentile'"}},
       "strokeDash": {"field": "k", "type": "nominal", "scale": {"domain": ["a", "l", "h"], "range": [[1, 0], [1, 1], [1, 0]]},
                 "legend": {"title": null, "orient": "bottom", "direction": "horizontal", "symbolType": "stroke", "labelExpr": "datum.label == 'a' ? 'Average' : datum.label == 'l' ? '10th Percentile' : '90th Percentile'"}},
       "strokeWidth": {"field": "k", "type": "nominal", "scale": {"type": "ordinal", "domain": ["a", "l", "h"], "range": [3, 1.2, 2]},
                 "legend": {"title": null, "orient": "bottom", "direction": "horizontal", "symbolType": "stroke", "labelExpr": "datum.label == 'a' ? 'Average' : datum.label == 'l' ? '10th Percentile' : '90th Percentile'"}}
     }},
    {"data": {"values": [{}]}, "mark": {"type": "rule", "color": "#9a9a9a", "strokeWidth": 1.5},
     "encoding": {"x": {"datum": {"year": 2007, "month": 7, "date": 10}, "type": "temporal"}}}
  ]
}
]
}
